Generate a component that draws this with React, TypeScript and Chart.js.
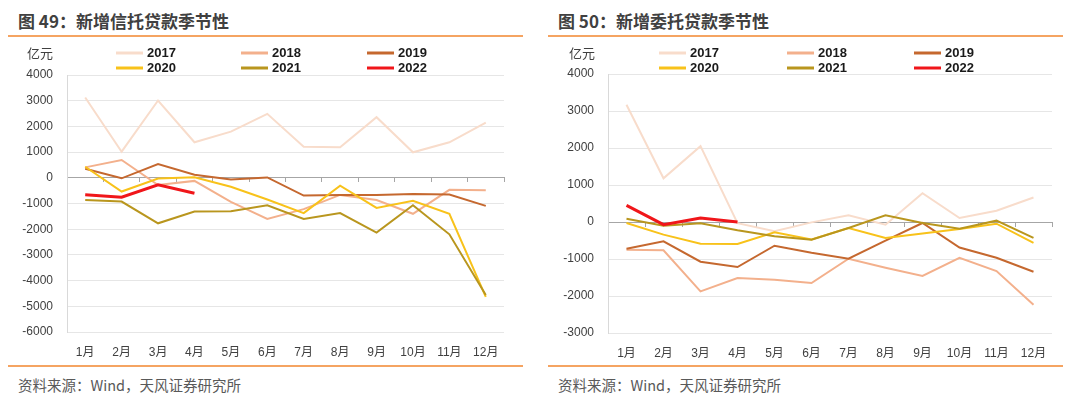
import React, { useEffect, useRef } from 'react';
import { Chart, registerables } from 'chart.js';

Chart.register(...registerables);

// ---------- data ----------
const months = ['1月', '2月', '3月', '4月', '5月', '6月', '7月', '8月', '9月', '10月', '11月', '12月'];
const seriesYears = ['2017', '2018', '2019', '2020', '2021', '2022'];
const seriesColors = ['#F8DCCB', '#F3B08C', '#C5682F', '#F8C21A', '#B9961E', '#F0161A'];
const seriesWidths = [2, 2, 2, 2, 2, 3];

const trustTitle = '图 49：新增信托贷款季节性';
const entrustTitle = '图 50：新增委托贷款季节性';
const sourceText = '资料来源：Wind，天风证券研究所';
const unitLabel = '亿元';

const trustYMin = -6000;
const trustYMax = 4000;
const entrustYMin = -3000;
const entrustYMax = 4000;
const yStep = 1000;

const trust2017 = [3125, 1016, 3008, 1383, 1797, 2488, 1211, 1187, 2359, 992, 1383, 2148];
const trust2018 = [406, 691, -280, -120, -937, -1602, -1220, -667, -867, -1400, -467, -480];
const trust2019 = [350, -20, 535, 117, -62, 16, -693, -667, -667, -627, -653, -1093];
const trust2020 = [430, -535, -30, 20, -351, -846, -1373, -307, -1173, -893, -1400, -4633];
const trust2021 = [-859, -925, -1770, -1316, -1302, -1067, -1600, -1373, -2133, -1067, -2200, -4557];
const trust2022 = [-664, -754, -273, -598];

const entrust2017 = [3168, 1181, 2050, -30, -250, -10, 179, -72, 779, 107, 304, 662];
const entrust2018 = [-748, -766, -1874, -1514, -1559, -1649, -993, -1235, -1459, -967, -1325, -2238];
const entrust2019 = [-721, -523, -1072, -1216, -640, -832, -993, -501, -27, -689, -967, -1343];
const entrust2020 = [-27, -342, -586, -595, -279, -474, -161, -430, -313, -188, -45, -564];
const entrust2021 = [90, -99, -36, -225, -387, -477, -161, 179, -27, -179, 36, -430];
const entrust2022 = [449, -73, 108, 0];

const trustSeries = [trust2017, trust2018, trust2019, trust2020, trust2021, trust2022];
const entrustSeries = [entrust2017, entrust2018, entrust2019, entrust2020, entrust2021, entrust2022];

// ---------- styling ----------
const FONT = '"Liberation Sans", Arial, "Noto Sans CJK SC", sans-serif';
const CJK = '"Noto Sans CJK SC", "Liberation Sans", sans-serif';

const legendPlugin = {
  id: 'gridLegend',
  afterDraw(chart: any, _args: any, opts: any) {
    const { ctx } = chart;
    const ds = chart.data.datasets;
    ctx.save();
    ctx.textBaseline = 'middle';
    ctx.textAlign = 'left';
    ds.forEach((d: any, i: number) => {
      const col = i % 3;
      const row = Math.floor(i / 3);
      const x = opts.xs[col];
      const y = opts.ys[row];
      ctx.strokeStyle = d.borderColor;
      ctx.lineWidth = 3;
      ctx.beginPath();
      ctx.moveTo(x, y);
      ctx.lineTo(x + opts.lineLen, y);
      ctx.stroke();
      ctx.font = 'bold 13px ' + FONT;
      ctx.fillStyle = '#1A1A1A';
      ctx.fillText(d.label, x + opts.lineLen + 4, y + 0.5);
    });
    ctx.font = '13px ' + CJK;
    ctx.fillStyle = '#404040';
    ctx.fillText(opts.unit, opts.unitX, opts.ys[0]);
    ctx.restore();
  },
};

type PanelCfg = {
  series: number[][];
  yMin: number;
  yMax: number;
  padRight: number;
  padTop: number;
  yWidth: number;
  xHeight: number;
  legendXs: number[];
  unitX: number;
};

function LineChart({ cfg }: { cfg: PanelCfg }) {
  const ref = useRef<HTMLCanvasElement | null>(null);
  useEffect(() => {
    if (!ref.current) return;
    const datasets = cfg.series.map((vals, i) => ({
      label: seriesYears[i],
      data: vals,
      borderColor: seriesColors[i],
      backgroundColor: seriesColors[i],
      borderWidth: seriesWidths[i],
      pointRadius: 0,
      pointHoverRadius: 0,
      tension: 0,
      fill: false,
      order: seriesYears.length - 1 - i,
    }));
    const chart = new Chart(ref.current, {
      type: 'line',
      data: { labels: months, datasets },
      plugins: [legendPlugin as any],
      options: {
        responsive: false,
        maintainAspectRatio: false,
        animation: false,
        events: [],
        layout: { padding: { left: 0, right: cfg.padRight, top: cfg.padTop, bottom: 0 } },
        plugins: {
          legend: { display: false },
          tooltip: { enabled: false },
          gridLegend: {
            xs: cfg.legendXs,
            ys: [13, 28],
            lineLen: 27,
            unit: unitLabel,
            unitX: cfg.unitX,
          },
        } as any,
        scales: {
          x: {
            type: 'category',
            position: 'bottom',
            offset: true,
            grid: { display: false },
            border: { display: false },
            ticks: {
              color: '#404040',
              font: { size: 12, family: FONT },
              padding: 5,
              maxRotation: 0,
              autoSkip: false,
            },
            afterFit: (s: any) => {
              s.height = cfg.xHeight;
            },
          },
          x0: {
            type: 'category',
            axis: 'x',
            position: { y: 0 },
            offset: true,
            grid: { drawOnChartArea: false, drawTicks: true, tickLength: 4, color: '#A6A6A6', offset: true },
            border: { display: true, color: '#A6A6A6', width: 1 },
            ticks: { display: false },
          },
          y: {
            type: 'linear',
            position: 'left',
            min: cfg.yMin,
            max: cfg.yMax,
            ticks: {
              stepSize: yStep,
              color: '#404040',
              font: { size: 12, family: FONT },
              padding: 14,
              callback: (v: any) => String(v),
            },
            grid: {
              drawTicks: false,
              color: (c: any) => (c.tick && c.tick.value === 0 ? 'rgba(0,0,0,0)' : '#E6E6E6'),
            },
            border: { color: '#D9D9D9' },
            afterFit: (s: any) => {
              s.width = cfg.yWidth;
            },
          },
        } as any,
      },
    });
    return () => chart.destroy();
  }, [cfg]);
  return <canvas ref={ref} width={540} height={322} style={{ display: 'block', width: 540, height: 322 }} />;
}

const trustCfg: PanelCfg = {
  series: trustSeries,
  yMin: trustYMin,
  yMax: trustYMax,
  padRight: 36,
  padTop: 35,
  yWidth: 67,
  xHeight: 30,
  legendXs: [116, 241, 367],
  unitX: 27,
};

const entrustCfg: PanelCfg = {
  series: entrustSeries,
  yMin: entrustYMin,
  yMax: entrustYMax,
  padRight: 28,
  padTop: 34,
  yWidth: 68,
  xHeight: 29,
  legendXs: [119, 247, 374],
  unitX: 29,
};

function Panel({ left, title, cfg }: { left: number; title: string; cfg: PanelCfg }) {
  return (
    <div style={{ position: 'absolute', left, top: 0, width: 540, height: 397 }}>
      <div
        style={{
          position: 'absolute',
          left: 18,
          top: 10,
          fontFamily: CJK,
          fontWeight: 700,
          fontSize: 17,
          lineHeight: '21px',
          color: '#404040',
          whiteSpace: 'nowrap',
        }}
      >
        {title}
      </div>
      <div style={{ position: 'absolute', left: 8, top: 35, width: 515, height: 1.5, background: '#F5A462' }} />
      <div style={{ position: 'absolute', left: 0, top: 40, width: 540, height: 322 }}>
        <LineChart cfg={cfg} />
      </div>
      <div style={{ position: 'absolute', left: 8, top: 365, width: 515, height: 1.5, background: '#F5A462' }} />
      <div
        style={{
          position: 'absolute',
          left: 18,
          top: 376,
          fontFamily: CJK,
          fontSize: 14.5,
          lineHeight: '18px',
          color: '#595959',
          whiteSpace: 'nowrap',
        }}
      >
        {sourceText}
      </div>
    </div>
  );
}

export default function App() {
  return (
    <div
      style={{
        position: 'absolute',
        left: 0,
        top: 0,
        width: 1080,
        height: 397,
        background: '#FFFFFF',
        overflow: 'hidden',
      }}
    >
      <Panel left={0} title={trustTitle} cfg={trustCfg} />
      <Panel left={540} title={entrustTitle} cfg={entrustCfg} />
    </div>
  );
}
